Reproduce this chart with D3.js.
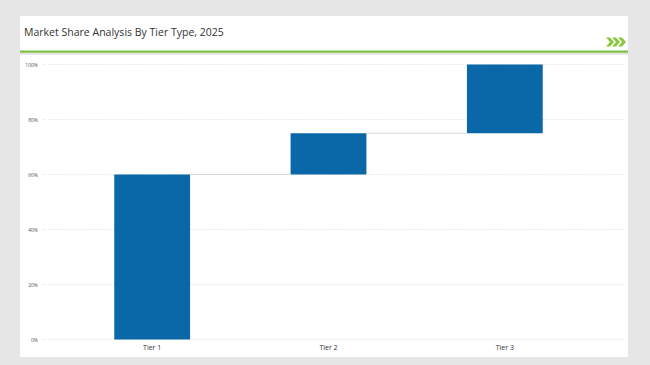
<!DOCTYPE html>
<html><head><meta charset="utf-8">
<script src="https://cdn.jsdelivr.net/npm/d3@7"></script>
<style>body{margin:0;background:#e6e6e6;}svg{display:block;}</style>
</head><body>
<svg id="c" width="650" height="365"></svg>
<script>
const title = "Market Share Analysis By Tier Type, 2025";
const categories = ["Tier 1", "Tier 2", "Tier 3"];
const shares = [60, 15, 25];
const yTicks = [0, 20, 40, 60, 80, 100];

const svg = d3.select("#c");
svg.append("rect").attr("width",650).attr("height",365).attr("fill","#e6e6e6");
// header panel
svg.append("rect").attr("x",20).attr("y",16).attr("width",608).attr("height",35).attr("fill","#fff");
svg.append("rect").attr("x",20).attr("y",50.5).attr("width",608).attr("height",2.2).attr("fill","#7dc242");
const t = svg.append("text").attr("x",24).attr("y",36).attr("font-family","Open Sans, sans-serif")
  .attr("font-size",11).attr("fill","#333").text(title);
const tl = t.node().getComputedTextLength();
if (tl>0) t.attr("font-size", 11*200/tl);
// chevrons
const chev = svg.append("g").attr("fill","#8dc63f");
[0,6,12].forEach(dx=>{
  chev.append("path").attr("d",`M${606+dx},37.5 l4,0 l4,4.5 l-4,4.5 l-4,0 l4,-4.5 z`);
});
// chart panel
svg.append("rect").attr("x",20).attr("y",55).attr("width",608).attr("height",302).attr("fill","#fff");

const y = d3.scaleLinear().domain([0,100]).range([339.5,64.5]);
const x = d3.scaleBand().domain(categories).range([64,593]).paddingInner(0.57).paddingOuter(0.285);

// grid
const g = svg.append("g");
yTicks.forEach(v=>{
  g.append("line").attr("x1",43).attr("x2",626).attr("y1",y(v)).attr("y2",y(v))
   .attr("stroke","#d6d6d6").attr("stroke-width",0.8).attr("stroke-dasharray","1,1.5");
});
const yAxis = d3.axisLeft(y).tickValues(yTicks).tickFormat(d=>d+"%").tickSize(0).tickPadding(0);
const ya = svg.append("g").attr("transform","translate(38,0)").call(yAxis);
ya.select(".domain").remove();
ya.selectAll("text").attr("font-family","Open Sans, sans-serif").attr("font-size",5).attr("fill","#555");

// waterfall
let cum = 0;
const data = categories.map((c,i)=>{const s=cum; cum+=shares[i]; return {c, start:s, end:cum};});
svg.append("g").selectAll("rect").data(data).join("rect")
  .attr("x",d=>x(d.c)).attr("width",x.bandwidth())
  .attr("y",d=>y(d.end)).attr("height",d=>y(d.start)-y(d.end))
  .attr("fill","#0b68a8");
// connectors
data.slice(0,-1).forEach((d,i)=>{
  svg.append("line").attr("x1",x(d.c)+x.bandwidth()).attr("x2",x(data[i+1].c))
    .attr("y1",y(d.end)).attr("y2",y(d.end)).attr("stroke","#d9d9d9").attr("stroke-width",1.2);
});
// x axis labels
const xAxis = d3.axisBottom(x).tickSize(0).tickPadding(0);
const xa = svg.append("g").attr("transform","translate(0,345)").call(xAxis);
xa.select(".domain").remove();
xa.selectAll("text").attr("font-family","Open Sans, sans-serif").attr("font-size",7).attr("fill","#333");
</script>
</body></html>
